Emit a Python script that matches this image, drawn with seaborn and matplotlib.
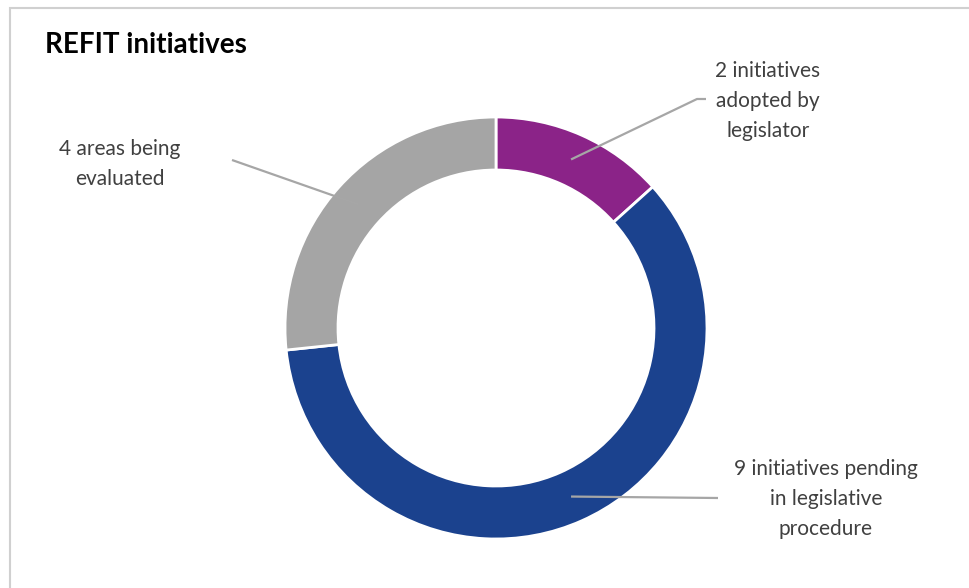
import numpy as np
import matplotlib
matplotlib.use("Agg")
import matplotlib.pyplot as plt
from matplotlib.patches import Rectangle
import seaborn as sns

# Data
categories = ["adopted", "pending", "evaluated"]
counts = [2, 9, 4]
labels = ["2 initiatives\nadopted by\nlegislator",
          "9 initiatives pending\nin legislative\nprocedure",
          "4 areas being\nevaluated"]
colors = ["#8B2388", "#1B428E", "#A5A5A5"]
title = "REFIT initiatives"

sns.set_theme(style="white")
plt.rcParams["font.family"] = ["Lato", "DejaVu Sans"]

W, H = 969, 588
fig = plt.figure(figsize=(W / 100, H / 100), dpi=100)
fig.patch.set_facecolor("white")
ax = fig.add_axes([0, 0, 1, 1])

# pixel-like coordinate frame (y measured upward)
cx, cy = 496, H - 328
R = 211
ring = 53
start = 90

wedges, _ = ax.pie(counts, colors=colors, startangle=start, counterclock=False,
                   radius=R, center=(cx, cy),
                   wedgeprops=dict(width=ring, edgecolor="white", linewidth=2))
ax.set_xlim(0, W)
ax.set_ylim(0, H)
ax.set_aspect("equal")
ax.axis("off")

# Label text positions (pixels from top-left) and leader-line elbows
text_pos = [(768, 101), (826, 499), (120, 164)]
elbows = [[(697, 99), (706, 99)], [(718, 498)], [(232, 160)]]

total = sum(counts)
acc = 0
for i, v in enumerate(counts):
    mid = start - 360 * (acc + v / 2) / total
    acc += v
    r_anchor = R - ring / 2
    ax_x = cx + r_anchor * np.cos(np.radians(mid))
    ax_y = cy + r_anchor * np.sin(np.radians(mid))
    xs = [ax_x] + [p[0] for p in elbows[i]]
    ys = [ax_y] + [H - p[1] for p in elbows[i]]
    ax.plot(xs, ys, color="#A6A6A6", lw=1.6, solid_capstyle="butt", zorder=3)
    tx, ty = text_pos[i]
    ax.text(tx, H - ty, labels[i], ha="center", va="center", fontsize=15,
            color="#404040", linespacing=1.6)

fig.text(45 / W, 1 - 45 / H, title, ha="left", va="center", fontsize=20,
         fontweight="bold", color="black")

# chart frame
fig.patches.append(Rectangle((10 / W, -0.1), 1.2, 1 - 8 / H + 0.1,
                             transform=fig.transFigure, fill=False,
                             edgecolor="#D0D0D0", linewidth=1.5))

fig.savefig("out.png", dpi=100, facecolor="white")
